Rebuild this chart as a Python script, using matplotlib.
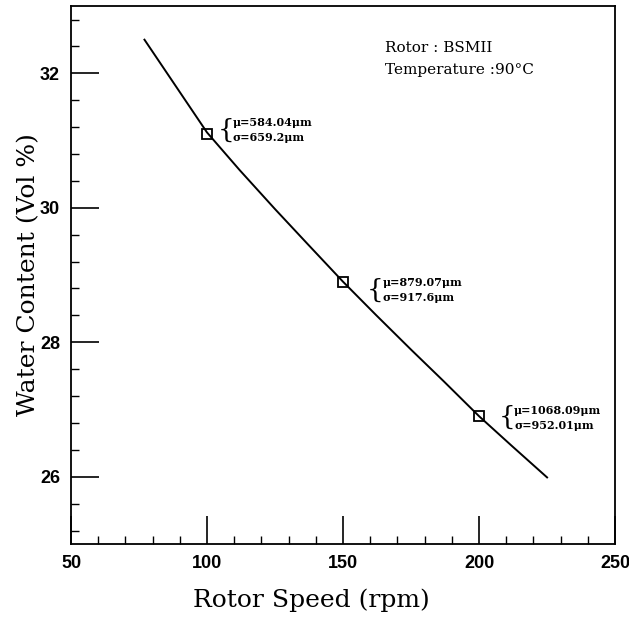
import numpy as np
import matplotlib
matplotlib.use("Agg")
import matplotlib.pyplot as plt
from matplotlib.ticker import MultipleLocator

# fitted curve
curve_speed = [77, 90, 100, 112, 125, 137, 150, 162, 175, 187, 200, 212, 225]
curve_water = [32.50, 31.72, 31.12, 30.56, 29.98, 29.46, 28.90, 28.41, 27.89, 27.42, 26.90, 26.46, 25.99]

# measured points
speed = [100, 150, 200]
water = [31.1, 28.9, 26.9]
mu_labels = ["μ=584.04μm", "μ=879.07μm", "μ=1068.09μm"]
sigma_labels = ["σ=659.2μm", "σ=917.6μm", "σ=952.01μm"]
label_x = [103.8, 158.8, 207.3]
label_y = [31.15, 28.78, 26.88]

fig = plt.figure(figsize=(6.29, 6.19), dpi=100)
ax = fig.add_axes([0.1129, 0.1212, 0.865, 0.869])

ax.plot(curve_speed, curve_water, color='black', lw=1.4)
ax.plot(speed, water, 's', ms=6.5, mfc='none', mec='black', mew=1.3)

for x, y, mu, sg in zip(label_x, label_y, mu_labels, sigma_labels):
    ax.text(x, y, "{", fontsize=19, family='DejaVu Serif', va='center', ha='left')
    ax.text(x + 5.6, y, mu + "\n" + sg, fontsize=8, family='DejaVu Serif',
            fontweight='bold', va='center', ha='left', linespacing=1.45)

ax.text(0.577, 0.922, "Rotor : BSMII", transform=ax.transAxes, fontsize=11,
        family='DejaVu Serif', va='center')
ax.text(0.577, 0.882, "Temperature :90°C", transform=ax.transAxes, fontsize=11,
        family='DejaVu Serif', va='center')

ax.set_xlim(50, 250)
ax.set_ylim(25, 33)
ax.xaxis.set_major_locator(MultipleLocator(50))
ax.xaxis.set_minor_locator(MultipleLocator(10))
ax.yaxis.set_major_locator(MultipleLocator(2))
ax.yaxis.set_minor_locator(MultipleLocator(0.4))
ax.set_yticks([26, 28, 30, 32])

ax.tick_params(which='both', direction='in', top=False, right=False)
ax.tick_params(which='major', length=20, width=1.2, pad=8)
ax.tick_params(which='minor', length=6, width=1.0)
for lab in ax.get_xticklabels() + ax.get_yticklabels():
    lab.set_family('Liberation Sans')
    lab.set_fontweight('bold')
    lab.set_fontsize(13)
for sp in ax.spines.values():
    sp.set_linewidth(1.3)

ax.set_xlabel("Rotor Speed (rpm)", fontsize=18, family='DejaVu Serif')
ax.set_ylabel("Water Content (Vol %)", fontsize=18, family='DejaVu Serif')
ax.xaxis.set_label_coords(0.441, -0.083)
ax.yaxis.set_label_coords(-0.056, 0.5)

fig.savefig("out.png", dpi=100)
